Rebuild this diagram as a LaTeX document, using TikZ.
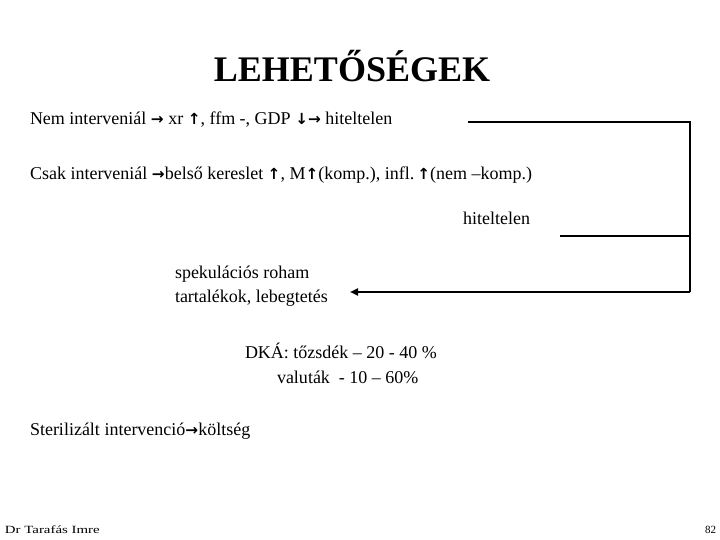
\documentclass[tikz,border=0pt]{standalone}
\usepackage{fontspec}
\setmainfont{Liberation Serif}
\newfontfamily\arrowfont{DejaVu Sans Bold}
\usetikzlibrary{arrows.meta}

\newcommand{\jobbra}{{\arrowfont\scalebox{0.85}{→}}}
\newcommand{\fel}{{\arrowfont\scalebox{0.85}{↑}}}
\newcommand{\lefele}{{\arrowfont\scalebox{0.85}{↓}}}

\begin{document}
\begin{tikzpicture}[x=1pt, y=-1pt
    , every node/.style={inner sep=0pt, outer sep=0pt}
    , szoveg/.style={anchor=base west, font=\fontsize{18}{21}\selectfont}
    , lablec/.style={font=\fontsize{11}{13}\selectfont}
    , vonal/.style={line width=2pt}
    ]

    \useasboundingbox (0,0) rectangle (720,540);

    %% cim
    \node[anchor=base, font=\fontsize{36}{40}\selectfont\bfseries] (cim) at (352,82) {LEHETŐSÉGEK};

    \node[szoveg] (nem) at (30,125) {Nem interveniál \jobbra{} xr \fel, ffm -, GDP \lefele\jobbra{} hiteltelen};
    \node[szoveg] (csak) at (30,180) {Csak interveniál \jobbra belső kereslet \fel, M\fel(komp.), infl.\,\fel(nem –komp.)};
    \node[szoveg, anchor=base east] (hitel) at (530,225) {hiteltelen};

    \node[szoveg] (spek) at (175,278) {spekulációs roham};
    \node[szoveg] (tartalek) at (175,302) {tartalékok, lebegtetés};

    \node[szoveg] (dka) at (245,358) {DKÁ: tőzsdék – 20 - 40 \%};
    \node[szoveg] (valuta) at (277,383) {valuták \ - 10 – 60\%};

    \node[szoveg] (steril) at (30,435) {Sterilizált intervenció\jobbra költség};

    % lablec
    \node[lablec, anchor=base west] (szerzo) at (5,533) {\scalebox{1.35}[1]{Dr Tarafás Imre}};
    \node[lablec, anchor=base east] (oldal) at (716,533) {82};

    %% Here the bracket
    \coordinate (felso) at (468,122);
    \coordinate (sarok) at (690,122);
    \coordinate (kozep) at (560,236);
    \coordinate (kozepjobb) at (690,236);
    \coordinate (also) at (690,292);
    \coordinate (hegy) at (350,292);
    \draw[vonal] (felso) -- (sarok) -- (also);
    \draw[vonal] (kozep) -- (kozepjobb);
    \draw[vonal, -{Triangle[length=8pt, width=7pt]}] (also) -- (hegy);

\end{tikzpicture}
\end{document}
